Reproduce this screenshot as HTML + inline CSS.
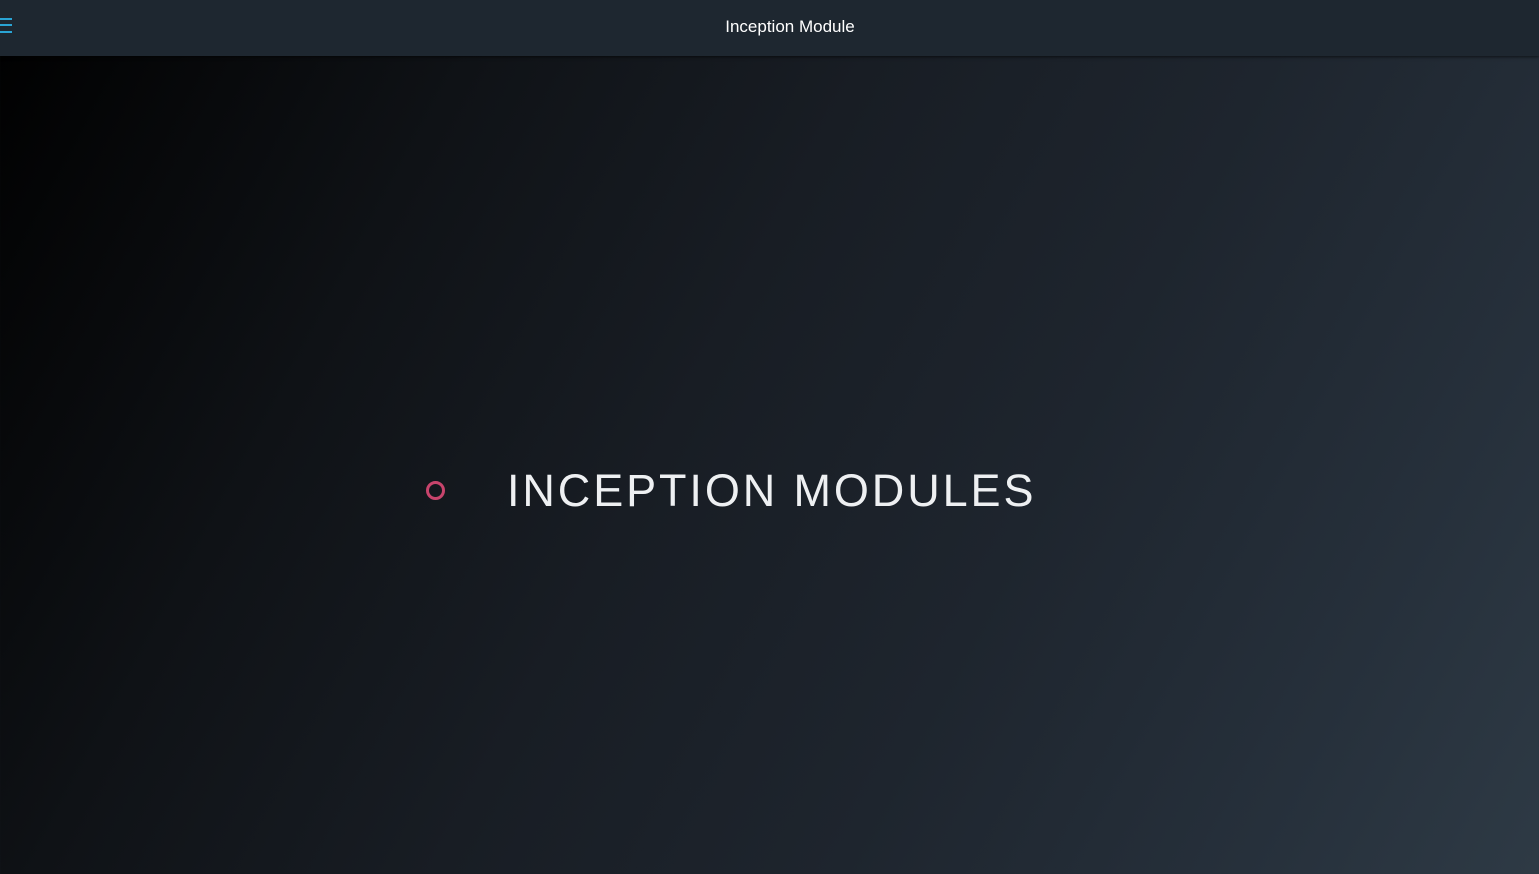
<!DOCTYPE html>
<html><head><meta charset="utf-8"><style>
html,body{margin:0;padding:0;width:1539px;height:874px;overflow:hidden;font-family:"Liberation Sans",sans-serif}
body{background:linear-gradient(118deg,#000000 0%,#0f1216 25%,#181d24 45%,#1e252e 65%,#26303b 85%,#2e3a45 100%);position:relative}
.hdr{position:absolute;left:0;top:0;width:1539px;height:56px;background:#1e2730;box-shadow:0 1px 3px rgba(0,0,0,.6)}
.hdr .t{position:absolute;left:0;width:1580px;top:17px;text-align:center;color:#fff;font-size:17px}
.bar{position:absolute;left:0;width:12px;height:2px;background:#2aa4d4}
.title{position:absolute;left:507px;top:468px;color:#eef0f2;font-size:45px;letter-spacing:2.9px;white-space:nowrap;line-height:46px}
.circ{position:absolute;left:426px;top:481px;width:13px;height:13px;border:3px solid #c8446c;border-radius:50%}
</style></head><body>
<div class="hdr">
<div class="bar" style="top:18px"></div><div class="bar" style="top:24px"></div><div class="bar" style="top:31px"></div>
<div class="t">Inception Module</div>
</div>
<div class="circ"></div>
<div class="title">INCEPTION MODULES</div>
</body></html>
